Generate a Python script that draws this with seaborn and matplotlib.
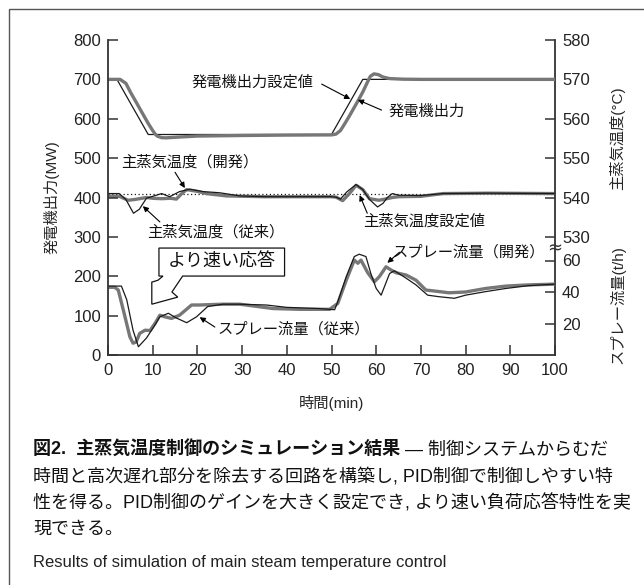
import matplotlib
matplotlib.use('Agg')
import matplotlib.pyplot as plt
import seaborn as sns
from matplotlib.patches import Polygon, Rectangle
import matplotlib.transforms as mtransforms

# Data
# generator output (MW)
t_gen_sp = [0, 2, 9, 50, 57, 100]
gen_sp = [700, 700, 560, 560, 700, 700]

t_gen = [0, 2.7, 4, 5, 6, 7, 8, 9, 10, 10.5, 11, 12, 13, 15, 20, 30, 40, 50, 51, 52,
         53, 54, 55, 56, 57, 58, 58.7, 59.5, 60.5, 61.5, 63, 66, 70, 100]
gen = [700, 700, 690, 668, 648, 628, 608, 588, 570, 562, 556, 552, 551.5, 553, 556, 557.5,
       558.5, 559, 561, 570, 588, 607, 627, 647, 668, 692, 708, 714, 712, 706, 702, 700.5, 700, 700]

# main steam temperature (deg C)
t_temp_sp = [0, 100]
temp_sp = [540.8, 540.8]

t_temp_old = [0, 2.5, 4, 5.7, 7, 8.6, 10, 12, 13.8, 16, 18.3, 21.3, 25, 29.5, 35, 45, 50, 51,
              52, 53.5, 55.5, 57, 58.5, 60.3, 61.5, 62.5, 63.6, 65, 70, 75, 85, 100]
temp_old = [541, 541, 539.5, 536, 537, 539.8, 540.3, 541, 540.2, 541.5, 542.1, 541.5, 541.2,
            540.4, 540.2, 540.2, 540.2, 540.1, 539.6, 541.5, 543.3, 542, 539.5, 537.6, 538.5,
            540, 541, 540.6, 540.5, 541, 541.1, 541]

t_temp_new = [0, 2.5, 3.5, 4.5, 6, 8.6, 10, 12, 14, 15.3, 16.5, 17.6, 19.8, 22, 26.5, 35, 45,
              50, 51, 52.5, 54, 55.5, 57, 58.5, 60.6, 62, 63.6, 65, 70, 75, 85, 100]
temp_new = [540.3, 540.3, 539.8, 539.3, 539.5, 540, 539.8, 539.7, 539.8, 539.6, 541, 542,
            541.6, 541, 540.4, 540.2, 540.2, 540.2, 540.1, 539.2, 541, 543.1, 542, 539.7,
            539.3, 539.6, 540, 540.2, 540.3, 541, 541.1, 541]

# spray flow (t/h)
t_spray_old = [0, 3, 4.2, 5.6, 6.8, 8.6, 10.5, 11.6, 13.5, 15.3, 17.6, 19.8, 22.3, 25.7, 29.5,
               35.4, 40, 47.3, 50.7, 51.4, 53.3, 55.1, 56.2, 57.7, 58.8, 60, 61.1, 62, 63,
               64.1, 66.7, 68.9, 71.5, 74.1, 77.5, 80, 84.5, 89, 94, 100]
spray_old = [43.75, 43.75, 35, 15.75, 5.25, 10.75, 19, 24.25, 26.5, 23.5, 20.5, 24.25, 30.75,
             32.25, 32.25, 31.75, 30.25, 29.5, 28.75, 33.75, 49.75, 62.5, 64, 62.5, 51.75,
             42.25, 38, 44.5, 51.75, 53.5, 48.75, 44.5, 38, 37, 36, 38, 40.25, 42.25, 44, 45]

t_spray_new = [0, 1.5, 2.3, 3.8, 4.9, 5.6, 6.3, 7.1, 8.3, 9.4, 10.5, 11.6, 12.7, 14.2, 16,
               18.7, 20.5, 25.7, 29.5, 36.9, 42.9, 49.6, 51.4, 53.3, 55.1, 55.9, 56.6, 57.4,
               58.1, 59.6, 60.7, 62.2, 63.3, 64.4, 66.7, 68.9, 71.1, 73.4, 76.3, 80, 84.5,
               89, 94, 100]
spray_new = [43, 43, 41.25, 24.25, 11.5, 7.5, 8.25, 13.75, 15.75, 15.5, 20, 25.25, 24.25,
             23.25, 25.25, 31.75, 31.75, 32.25, 32.25, 29.5, 29, 29, 32.75, 47.5, 60.25,
             58.25, 60.25, 56, 52.25, 46.5, 49.75, 56, 54, 52.25, 50.75, 47.5, 41.25, 40.5,
             39.5, 40, 42.25, 43.75, 44.5, 45]

x_ticks = [0, 10, 20, 30, 40, 50, 60, 70, 80, 90, 100]
mw_ticks = [0, 100, 200, 300, 400, 500, 600, 700, 800]
temp_ticks = [530, 540, 550, 560, 570, 580]
spray_ticks = [20, 40, 60]

# Style
sns.set_theme(style='white')
plt.rcParams['font.family'] = ['Liberation Sans', 'Noto Sans CJK JP']
SPINE = '#333333'
THIN = '#1a1a1a'
THICK = '#777777'
FS = 11

fig = plt.figure(figsize=(6.44, 5.85), dpi=100)
ax = fig.add_axes([108 / 644, 1 - 355 / 585, 447 / 644, 315 / 585])
ax_t = ax.twinx()
ax_s = ax.twinx()
ax.set_zorder(ax_s.get_zorder() + 1)
ax.patch.set_visible(False)

# generator output
sns.lineplot(x=t_gen_sp, y=gen_sp, ax=ax, color=THIN, lw=0.9, sort=False, estimator=None)
sns.lineplot(x=t_gen, y=gen, ax=ax, color=THICK, lw=2.4, sort=False, estimator=None)

# temperature
ax_t.plot(t_temp_sp, temp_sp, color=THIN, lw=0.9, ls=(0, (1, 2)))
sns.lineplot(x=t_temp_new, y=temp_new, ax=ax_t, color=THICK, lw=2.4, sort=False, estimator=None)
sns.lineplot(x=t_temp_old, y=temp_old, ax=ax_t, color=THIN, lw=0.9, sort=False, estimator=None)

# spray flow
sns.lineplot(x=t_spray_new, y=spray_new, ax=ax_s, color=THICK, lw=2.4, sort=False, estimator=None)
sns.lineplot(x=t_spray_old, y=spray_old, ax=ax_s, color=THIN, lw=0.9, sort=False, estimator=None)

ax.set_xlim(0, 100)
ax.set_ylim(0, 800)
ax_t.set_ylim(500, 580)
ax_s.set_ylim(0, 200)

ax.set_xticks(x_ticks)
ax.set_yticks(mw_ticks)
ax_t.set_yticks(temp_ticks)
ax_s.set_yticks(spray_ticks)

for a in (ax, ax_t, ax_s):
    for s in a.spines.values():
        s.set_visible(False)
    a.tick_params(direction='in', length=7, width=1.1, color=SPINE, labelsize=12,
                  labelcolor='#222222', pad=5)
    a.grid(False)
ax.spines['left'].set_visible(True)
ax.spines['bottom'].set_visible(True)
ax_t.spines['right'].set_visible(True)
for s in (ax.spines['left'], ax.spines['bottom'], ax_t.spines['right']):
    s.set_color(SPINE)
    s.set_linewidth(1.3)
ax.tick_params(axis='x', bottom=True, pad=6)
ax.tick_params(axis='y', left=True)
ax_t.tick_params(axis='y', right=True)
ax_s.tick_params(axis='y', right=True)

ax.set_xlabel('時間(min)', fontsize=FS, labelpad=12)
ax.set_ylabel('発電機出力(MW)', fontsize=FS, labelpad=10)
ax_t.set_ylabel('')
ax_s.set_ylabel('')
fig.text(617 / 644, 1 - 138 / 585, '主蒸気温度(°C)', rotation=90, fontsize=FS,
         ha='center', va='center')
fig.text(617 / 644, 1 - 305 / 585, 'スプレー流量(t/h)', rotation=90, fontsize=FS,
         ha='center', va='center')

# break mark on the right axis
trans = mtransforms.blended_transform_factory(ax.transAxes, ax.transData)
ax.text(1.0, 270, '≈', transform=trans, fontsize=13, ha='center', va='center',
        color=SPINE, family='DejaVu Sans', clip_on=False)

# annotations
arrow = dict(arrowstyle='-|>', lw=0.8, color='black', mutation_scale=8, shrinkA=0, shrinkB=0)


def note(text, xy_text, tail, head, ha='center'):
    ax.text(xy_text[0], xy_text[1], text, fontsize=FS, ha=ha, va='center', color='#111111')
    ax.annotate('', xy=head, xytext=tail, arrowprops=arrow)


note('発電機出力設定値', (32.4, 693), (47.8, 688), (54.2, 650))
note('発電機出力', (71.2, 617), (61.2, 622), (55.9, 648))
note('主蒸気温度（開発）', (18.3, 490), (15.0, 464), (17.2, 424))
note('主蒸気温度（従来）', (24.1, 312), (11.6, 338), (7.8, 378))
note('主蒸気温度設定値', (70.8, 338), (58.0, 360), (56.3, 406))
note('スプレー流量（開発）', (80.8, 261), (65.2, 261), (62.5, 234))
note('スプレー流量（従来）', (24.6, 66), (23.9, 71), (20.5, 96), ha='left')

# callout box with hollow arrow
callout = [(11.4, 271.6), (39.5, 271.6), (39.5, 200.5), (16.7, 200.5), (14.3, 160),
           (15.6, 147), (9.8, 129), (9.8, 185), (11.2, 190), (12.3, 200.5), (11.4, 200.5)]
ax.add_patch(Polygon(callout, closed=True, facecolor='white', edgecolor='#111111', lw=0.9,
                     zorder=4))
ax.text(25.4, 236, 'より速い応答', fontsize=13, ha='center', va='center', zorder=5,
        color='#111111')

# outer frame
fig.add_artist(Rectangle((9 / 644, -0.5), 2, (1 - 9 / 585) + 0.5, transform=fig.transFigure,
                         facecolor='none', edgecolor='#555555', lw=1.0))

# caption
fig.canvas.draw()
t1 = fig.text(33 / 644, 1 - 450 / 585, '図2.  主蒸気温度制御のシミュレーション結果',
              fontsize=13, fontweight='bold', va='center', ha='left', color='#111111')
fig.canvas.draw()
bb = t1.get_window_extent()
fig.text(bb.x1 / fig.bbox.width, 1 - 450 / 585, ' — 制御システムからむだ', fontsize=13,
         va='center', ha='left', color='#111111')
lines = ['時間と高次遅れ部分を除去する回路を構築し, PID制御で制御しやすい特',
         '性を得る。PID制御のゲインを大きく設定でき, より速い負荷応答特性を実',
         '現できる。']
for i, ln in enumerate(lines):
    fig.text(33 / 644, 1 - (477 + 26 * i) / 585, ln, fontsize=13, va='center', ha='left',
             color='#111111')
fig.text(33 / 644, 1 - 563 / 585, 'Results of simulation of main steam temperature control',
         fontsize=12, va='center', ha='left', color='#222222')

fig.savefig('out.png', dpi=100)
